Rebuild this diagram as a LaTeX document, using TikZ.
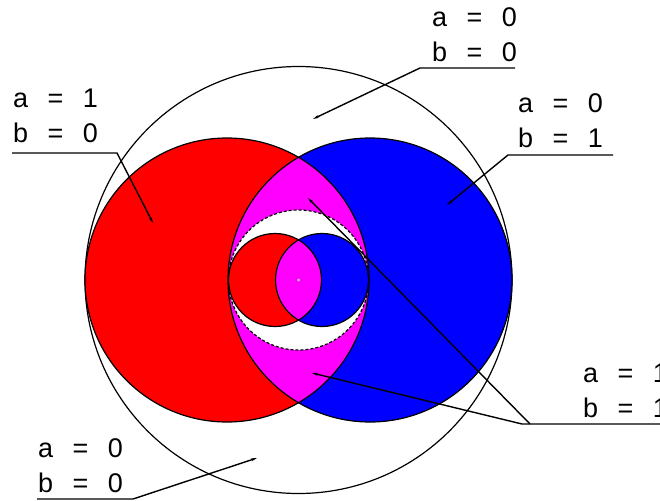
\documentclass[tikz,border=0pt]{standalone}
\usepackage{fontspec}
\setmainfont{Liberation Sans}[WordSpace=2.6]
\usetikzlibrary{arrows.meta,positioning}
\definecolor{setred}{RGB}{255,0,0}
\definecolor{setblue}{RGB}{0,0,255}
\definecolor{setboth}{RGB}{255,0,255}

\begin{document}
\begin{tikzpicture}[x=1pt,y=-1pt,
  font=\fontsize{27}{35}\selectfont,
  lbl/.style={align=left,inner sep=0pt},
  lead/.style={line width=1.4pt,{Stealth[length=6pt,width=3pt]}-},
  ring/.style={draw,line width=1.2pt},
  gap/.style={draw,line width=1.2pt,dash pattern=on 3pt off 2pt},
]
  \useasboundingbox (0,0) rectangle (660,500);

  % universe
  \draw[ring] (298.5,280) circle (213.5);

  % a and b
  \fill[setred] (227,280) circle (142);
  \fill[setblue] (370,280) circle (142);
  \begin{scope}
    \clip (227,280) circle (142);
    \fill[setboth] (370,280) circle (142);
    \clip (370,280) circle (142);
    \fill[white] (298.5,280) circle (70);
    \path[gap] (298.5,280) circle (70);
  \end{scope}
  \draw[ring] (227,280) circle (142);
  \draw[ring] (370,280) circle (142);

  % small a and b
  \fill[setred] (275,280) circle (46.5);
  \fill[setblue] (322,280) circle (46.5);
  \begin{scope}
    \clip (275,280) circle (46.5);
    \fill[setboth] (322,280) circle (46.5);
  \end{scope}
  \draw[ring] (275,280) circle (46.5);
  \draw[ring] (322,280) circle (46.5);
  \fill[gray!40] (298.5,280) circle (1.5);

  % labels
  \coordinate (u1) at (420,68);  \coordinate (e1) at (515,68);  \coordinate (p1) at (313,119);
  \coordinate (u2) at (508,155); \coordinate (e2) at (613,155); \coordinate (p2) at (447,205);
  \coordinate (u3) at (117,153); \coordinate (e3) at (12,153);  \coordinate (p3) at (153,223);
  \coordinate (u4) at (133,499); \coordinate (e4) at (37,499);  \coordinate (p4) at (257,458);
  \coordinate (u5) at (522,424); \coordinate (e5) at (660,424); \coordinate (k5) at (530,424);
  \coordinate (p5) at (312,373); \coordinate (q5) at (308,198);

  \node[lbl,above right=6pt and 12pt of u1] (none1) {a = 0\\b = 0};
  \node[lbl,above right=7pt and 10pt of u2] (bonly) {a = 0\\b = 1};
  \node[lbl,above right=10pt and 1pt of e3] (aonly) {a = 1\\b = 0};
  \node[lbl,above right=6pt and 1pt of e4] (none2) {a = 0\\b = 0};
  \node[lbl,above right=6pt and 61pt of u5] (both) {a = 1\\b = 1};

  \draw[lead] (p1) -- (u1) -- (e1);
  \draw[lead] (p2) -- (u2) -- (e2);
  \draw[lead] (p3) -- (u3) -- (e3);
  \draw[lead] (p4) -- (u4) -- (e4);
  \draw[lead] (p5) -- (u5) -- (e5);
  \draw[lead] (q5) -- (k5);
\end{tikzpicture}
\end{document}
